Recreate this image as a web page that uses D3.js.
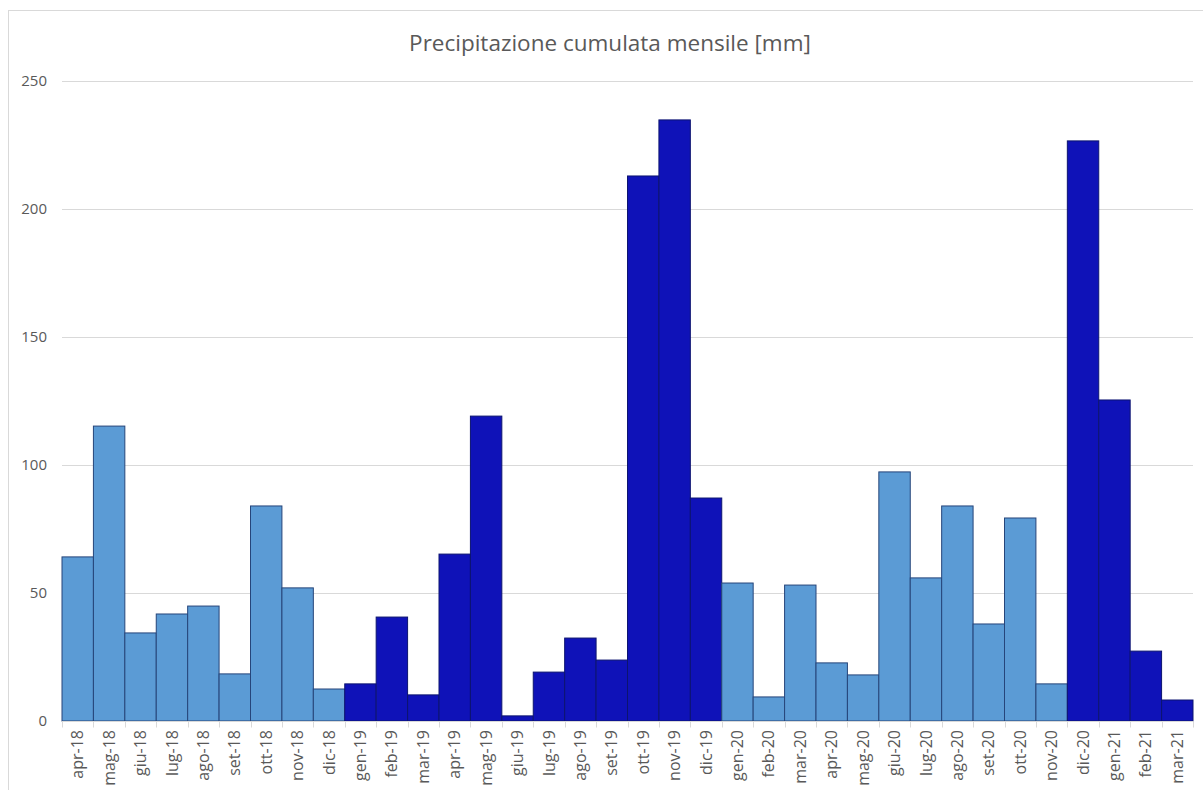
<!DOCTYPE html>
<html>
<head>
<meta charset="utf-8">
<script src="https://cdn.jsdelivr.net/npm/d3@7"></script>
<style>
  body { margin: 0; background: #fff; }
  svg { display: block; font-family: "Open Sans", "Liberation Sans", sans-serif; }
</style>
</head>
<body>
<svg id="chart" width="1203" height="790"></svg>
<script>
// monthly categories
const months = [
  'apr-18','mag-18','giu-18','lug-18','ago-18','set-18','ott-18','nov-18','dic-18',
  'gen-19','feb-19','mar-19','apr-19','mag-19','giu-19','lug-19','ago-19','set-19','ott-19','nov-19','dic-19',
  'gen-20','feb-20','mar-20','apr-20','mag-20','giu-20','lug-20','ago-20','set-20','ott-20','nov-20',
  'dic-20','gen-21','feb-21','mar-21'
];

// cumulated precipitation [mm]
const rain = [
  64.1, 115.2, 34.4, 41.8, 44.9, 18.4, 84.0, 52.0, 12.5,
  14.5, 40.6, 10.2, 65.2, 119.1, 2.0, 19.1, 32.4, 23.8, 212.9, 234.8, 87.1,
  53.9, 9.4, 53.1, 22.7, 18.0, 97.3, 55.9, 84.0, 37.9, 79.3, 14.5,
  226.6, 125.4, 27.3, 8.2
];

// highlighted months (dark series)
const highlighted = [
  'gen-19','feb-19','mar-19','apr-19','mag-19','giu-19','lug-19','ago-19','set-19','ott-19','nov-19','dic-19',
  'dic-20','gen-21','feb-21','mar-21'
];

const yTicks = [0, 50, 100, 150, 200, 250];
const title = 'Precipitazione cumulata mensile [mm]';

const svg = d3.select('#chart');
const margin = { left: 62, right: 10, top: 81, bottom: 69 };
const W = 1203, H = 790;

// outer chart frame
svg.append('rect')
  .attr('x', 8.5).attr('y', 10.5)
  .attr('width', 1210).attr('height', 800)
  .attr('fill', 'none').attr('stroke', '#d9d9d9').attr('stroke-width', 1);

const x = d3.scaleBand()
  .domain(months)
  .range([margin.left, W - margin.right])
  .padding(0);

const y = d3.scaleLinear()
  .domain([0, 250])
  .range([H - margin.bottom, margin.top]);

// gridlines
svg.append('g')
  .selectAll('line')
  .data(yTicks.filter(d => d > 0))
  .join('line')
  .attr('x1', margin.left).attr('x2', W - margin.right)
  .attr('y1', d => Math.round(y(d)) + 0.5).attr('y2', d => Math.round(y(d)) + 0.5)
  .attr('stroke', '#d9d9d9').attr('stroke-width', 1);

// y labels
svg.append('g')
  .selectAll('text')
  .data(yTicks)
  .join('text')
  .attr('x', 47)
  .attr('y', d => y(d))
  .attr('dy', '0.35em')
  .attr('text-anchor', 'end')
  .attr('fill', '#595959')
  .attr('font-size', 15)
  .text(d => d);

// bars
svg.append('g')
  .selectAll('rect')
  .data(months)
  .join('rect')
  .attr('x', d => x(d))
  .attr('width', x.bandwidth())
  .attr('y', (d, i) => y(rain[i]))
  .attr('height', (d, i) => y(0) - y(rain[i]))
  .attr('fill', d => highlighted.includes(d) ? '#0f12b8' : '#5b9bd5')
  .attr('stroke', d => highlighted.includes(d) ? '#0c1470' : '#26457a')
  .attr('stroke-width', 1);

// x axis line + ticks
const base = Math.round(y(0)) + 0.5;
svg.append('line')
  .attr('x1', margin.left).attr('x2', W - margin.right)
  .attr('y1', base).attr('y2', base)
  .attr('stroke', '#d9d9d9');

svg.append('g')
  .selectAll('line')
  .data(months.concat(['end']))
  .join('line')
  .attr('x1', (d, i) => Math.round(margin.left + i * x.step()) + 0.5)
  .attr('x2', (d, i) => Math.round(margin.left + i * x.step()) + 0.5)
  .attr('y1', base).attr('y2', base + 6)
  .attr('stroke', '#d9d9d9');

// x labels (rotated)
svg.append('g')
  .selectAll('text')
  .data(months)
  .join('text')
  .attr('transform', d => `translate(${x(d) + x.bandwidth() / 2},730) rotate(-90)`)
  .attr('dy', '0.35em')
  .attr('text-anchor', 'end')
  .attr('fill', '#595959')
  .attr('font-size', 16)
  .text(d => d);

// title
svg.append('text')
  .attr('x', 610).attr('y', 51)
  .attr('text-anchor', 'middle')
  .attr('fill', '#595959')
  .attr('font-size', 22.5)
  .text(title);
</script>
</body>
</html>
